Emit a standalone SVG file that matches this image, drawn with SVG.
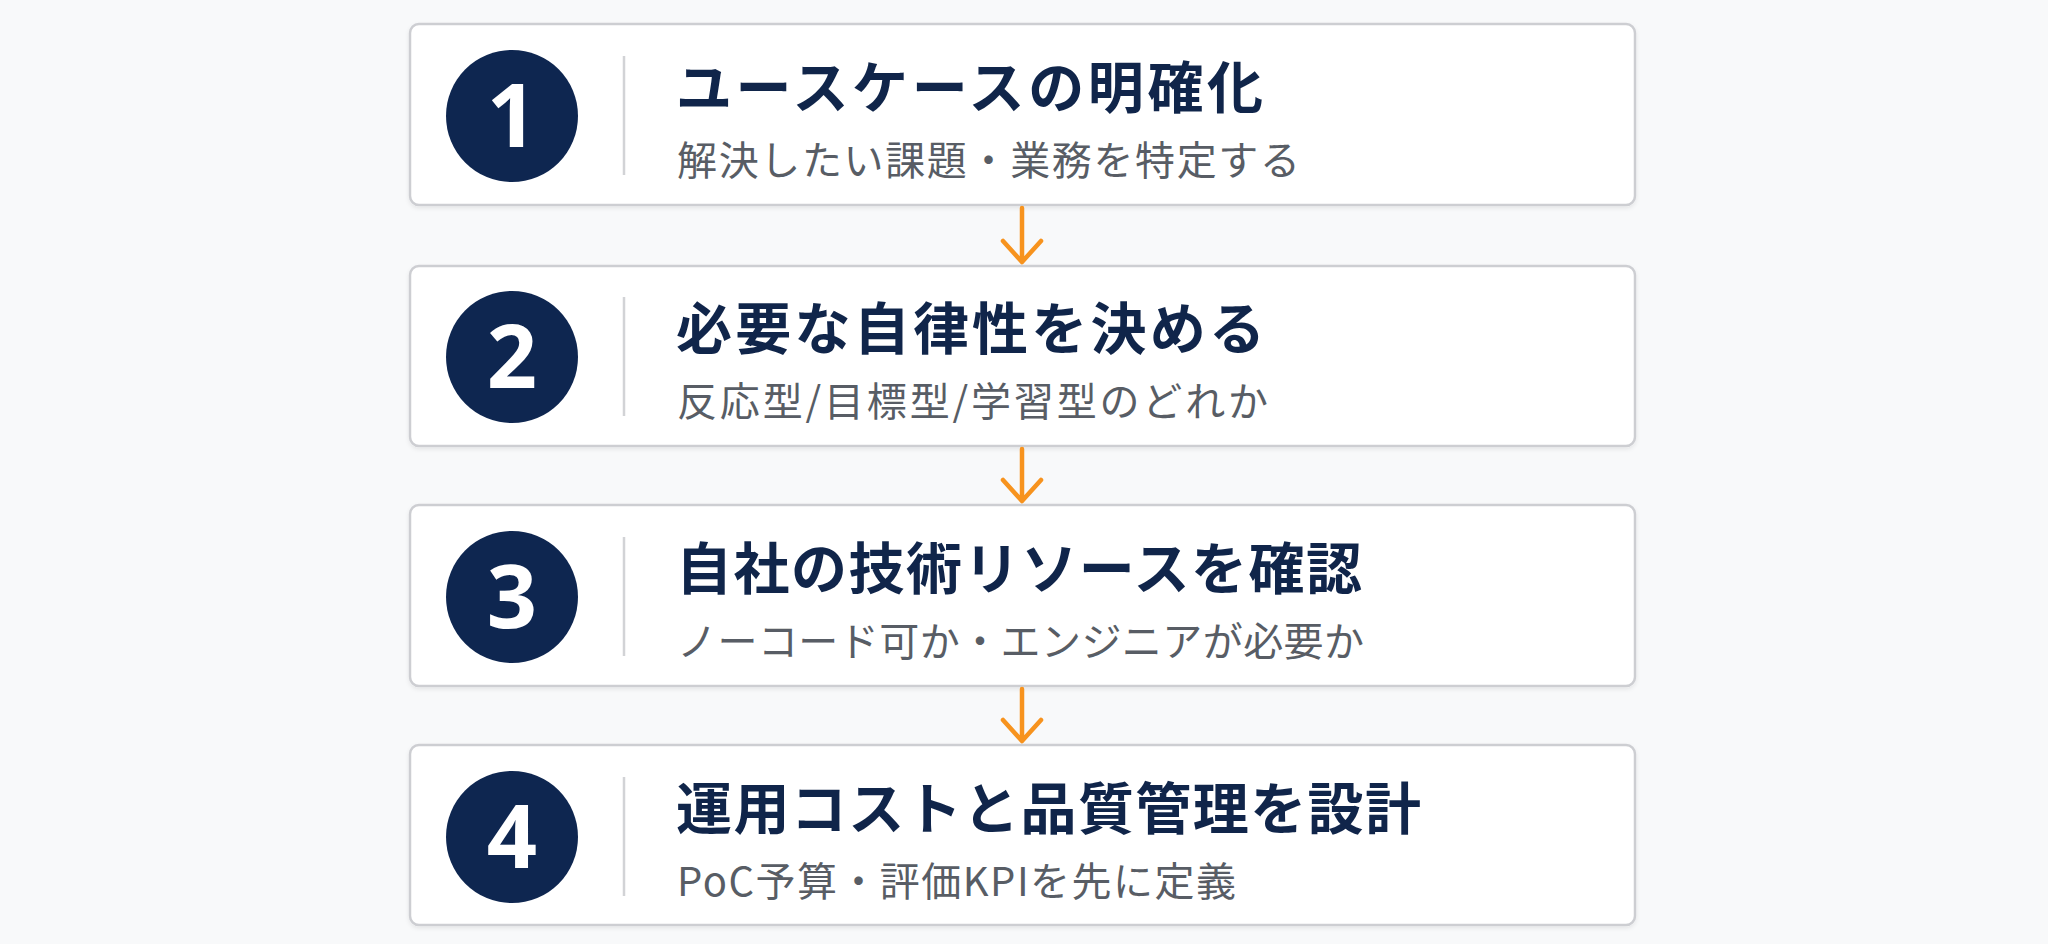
<svg xmlns="http://www.w3.org/2000/svg" width="2048" height="944" viewBox="0 0 2048 944">
<style>
.box{fill:#ffffff;stroke:#cdced2;stroke-width:2.5}
.circ{fill:#0e2650}
.num{font-family:"Noto Sans","Liberation Sans",sans-serif;font-weight:700;font-size:88px;fill:#ffffff;text-anchor:middle}
.div{stroke:#d2d3d6;stroke-width:2.5}
.title{font-family:"Noto Sans CJK JP","Noto Sans",sans-serif;font-weight:700;font-size:56px;fill:#10254a}
.sub{font-family:"Noto Sans CJK JP","Noto Sans",sans-serif;font-weight:400;font-size:40px;fill:#585d65}
.arr{fill:none;stroke:#f7931e;stroke-width:4.5;stroke-linecap:round;stroke-linejoin:round}
</style>
<defs>
<filter id="sh" x="-5%" y="-10%" width="110%" height="125%">
<feDropShadow dx="0" dy="2" stdDeviation="2" flood-color="#000" flood-opacity="0.08"/>
</filter>
</defs>
<rect width="2048" height="944" fill="#f8f9fa"/>
<g id="step1">
<rect class="box" x="410" y="24" width="1225" height="181" rx="9" filter="url(#sh)"/>
<circle class="circ" cx="512" cy="116" r="66"/>
<text class="num" x="512" y="147">1</text>
<line class="div" x1="624" y1="56" x2="624" y2="175"/>
<text class="title" x="676" y="108" textLength="587" lengthAdjust="spacing">ユースケースの明確化</text>
<text class="sub" x="677" y="175" textLength="623" lengthAdjust="spacing">解決したい課題・業務を特定する</text>
</g>
<g id="step2">
<rect class="box" x="410" y="266" width="1225" height="180" rx="9" filter="url(#sh)"/>
<circle class="circ" cx="512" cy="357" r="66"/>
<text class="num" x="512" y="388">2</text>
<line class="div" x1="624" y1="297" x2="624" y2="416"/>
<text class="title" x="676" y="349" textLength="589" lengthAdjust="spacing">必要な自律性を決める</text>
<text class="sub" x="677" y="416" textLength="591" lengthAdjust="spacing">反応型/目標型/学習型のどれか</text>
</g>
<g id="step3">
<rect class="box" x="410" y="505" width="1225" height="181" rx="9" filter="url(#sh)"/>
<circle class="circ" cx="512" cy="597" r="66"/>
<text class="num" x="512" y="628">3</text>
<line class="div" x1="624" y1="537" x2="624" y2="656"/>
<text class="title" x="676" y="589" textLength="686" lengthAdjust="spacing">自社の技術リソースを確認</text>
<text class="sub" x="677" y="656" textLength="687" lengthAdjust="spacing">ノーコード可か・エンジニアが必要か</text>
</g>
<g id="step4">
<rect class="box" x="410" y="745" width="1225" height="180" rx="9" filter="url(#sh)"/>
<circle class="circ" cx="512" cy="837" r="66"/>
<text class="num" x="512" y="868">4</text>
<line class="div" x1="624" y1="777" x2="624" y2="896"/>
<text class="title" x="676" y="829" textLength="745" lengthAdjust="spacing">運用コストと品質管理を設計</text>
<text class="sub" x="677" y="896" textLength="559" lengthAdjust="spacing">PoC予算・評価KPIを先に定義</text>
</g>
<g id="connectors">
<path class="arr" d="M1022,208 V262 M1003,241 L1022,262 L1041,241"/>
<path class="arr" d="M1022,449 V501 M1003,480 L1022,501 L1041,480"/>
<path class="arr" d="M1022,689 V741 M1003,720 L1022,741 L1041,720"/>
</g>
</svg>
